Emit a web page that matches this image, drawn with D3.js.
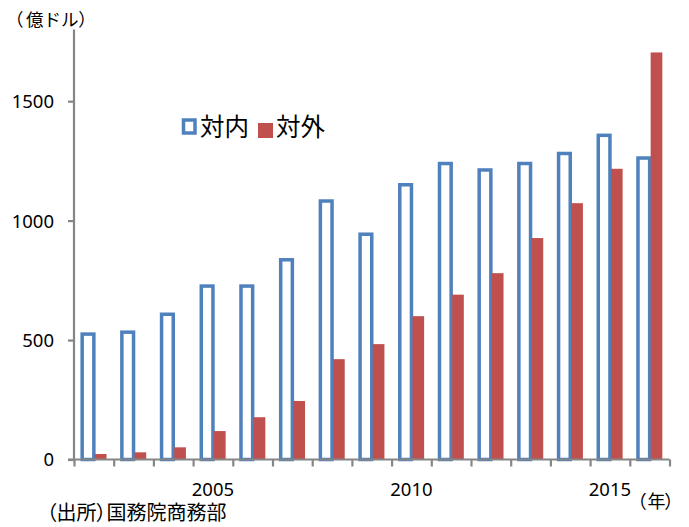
<!DOCTYPE html>
<html><head><meta charset="utf-8">
<script src="https://cdn.jsdelivr.net/npm/d3@7"></script>
<style>
html,body{margin:0;padding:0;background:#fff;}
svg{display:block;}
.cjk{font-family:"Noto Sans CJK JP","Noto Sans",sans-serif;}
.palt{font-feature-settings:"palt";}
.num{font-family:"Noto Sans","DejaVu Sans",sans-serif;}
</style></head>
<body>
<script>
const years = [2002,2003,2004,2005,2006,2007,2008,2009,2010,2011,2012,2013,2014,2015,2016];
const inward  = [525,533,608,726,726,836,1082,943,1150,1239,1212,1239,1281,1357,1262];
const outward = [23,30,51,119,177,245,420,483,600,690,780,927,1073,1217,1704];
const seriesNames = ["対内","対外"];
const yTicks = [0,500,1000,1500];
const xLabelYears = [2005,2010,2015];

(function(){
const W=689,H=527;
const svg=d3.select("body").append("svg").attr("width",W).attr("height",H);

const pL=74,pR=669.5,pT=29.5,pB=459.5;
const y=d3.scaleLinear().domain([0,1800]).range([pB,pT]);
const x0=d3.scaleBand().domain(years).range([pL,pR]).padding(0);
const x1=d3.scaleBand().domain(["in","out"]).range([0,x0.bandwidth()]).paddingInner(0).paddingOuter(0.7);

const blue="#4F81BD", red="#C0504D", axisCol="#868686";

const g=svg.append("g");
g.selectAll("rect.in").data(years).join("rect").attr("class","in")
  .attr("x",(d)=>x0(d)+x1("in"))
  .attr("width",x1.bandwidth())
  .attr("y",(d,i)=>y(inward[i]))
  .attr("height",(d,i)=>y(0)-y(inward[i]))
  .attr("fill","#fff").attr("stroke",blue).attr("stroke-width",3.5);
g.selectAll("rect.out").data(years).join("rect").attr("class","out")
  .attr("x",(d)=>x0(d)+x1("out")+1)
  .attr("width",x1.bandwidth())
  .attr("y",(d,i)=>y(outward[i]))
  .attr("height",(d,i)=>y(0)-y(outward[i]))
  .attr("fill",red);

const ya=svg.append("g").attr("transform",`translate(${pL},0)`)
  .call(d3.axisLeft(y).tickValues(yTicks).tickSize(6).tickPadding(14).tickFormat(d3.format("d")));
ya.select(".domain").attr("stroke",axisCol).attr("stroke-width",2.2).attr("d",`M0,${pT}V${pB}`);
ya.selectAll(".tick line").attr("stroke",axisCol).attr("stroke-width",2.2);
ya.selectAll(".tick text").attr("class","num").attr("font-size",18.5).attr("fill","#000").attr("dy","0.35em");

const xa=svg.append("g").attr("transform",`translate(0,${pB})`);
const xs=d3.scaleLinear().domain([0,years.length]).range([pL,pR]);
xa.call(d3.axisBottom(xs).tickValues(d3.range(years.length+1)).tickSize(7).tickFormat(""));
xa.select(".domain").attr("stroke",axisCol).attr("stroke-width",2.2).attr("d",`M${pL-6},0H${pR}`);
xa.selectAll(".tick line").attr("stroke",axisCol).attr("stroke-width",2.2);

svg.selectAll("text.xl").data(xLabelYears).join("text").attr("class","num")
  .attr("x",d=>x0(d)+x0.bandwidth()/2).attr("y",495.5)
  .attr("text-anchor","middle").attr("font-size",18.5).attr("fill","#000").text(d=>d);

// text made of positioned pieces (parentheses get proportional widths)
function pieces(yy,size,parts){
  const t=svg.append("text").attr("class","cjk").attr("y",yy).attr("font-size",size);
  parts.forEach(([s,x])=>{
    const ts=t.append("tspan").attr("x",x).text(s);
    if(s==="（"||s==="）") ts.attr("class","palt");
  });
  return t;
}
pieces(26,17.5,[["（",14],["億ドル",26],["）",79]]);
pieces(508,18,[["（",637],["年",647.5],["）",665]]);
pieces(520,20,[["（",46.5],["出所",56.5],["）",96.5],["国務院商務部",106.5]]);

const lg=svg.append("g");
lg.append("rect").attr("x",183.5).attr("y",120).attr("width",11.5).attr("height",13)
  .attr("fill","#fff").attr("stroke",blue).attr("stroke-width",3.5);
lg.append("text").attr("class","cjk").attr("x",200).attr("y",136).attr("font-size",24.5).text(seriesNames[0]);
lg.append("rect").attr("x",258).attr("y",123).attr("width",15).attr("height",15).attr("fill",red);
lg.append("text").attr("class","cjk").attr("x",276).attr("y",136).attr("font-size",24.5).text(seriesNames[1]);
})();
</script>
</body></html>
